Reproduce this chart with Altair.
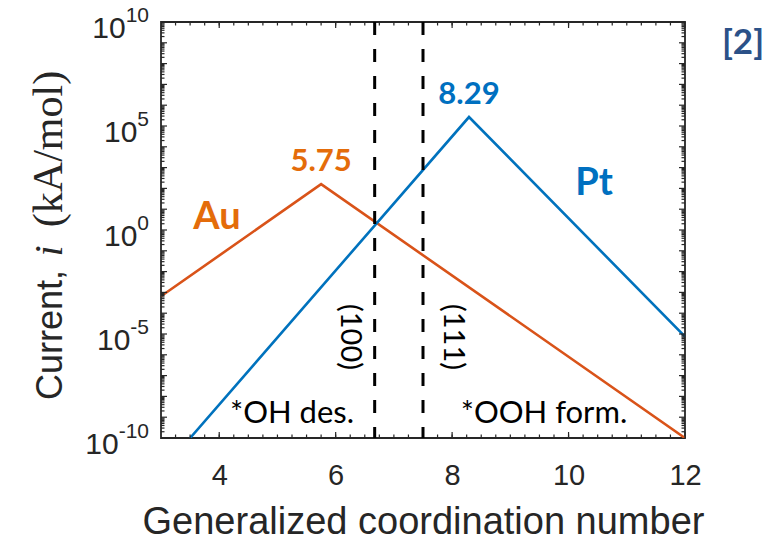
import altair as alt
import pandas as pd

# Volcano branches: generalized coordination number vs. current (log scale)
au_gcn = [3.0, 5.75, 12.0]
au_current = [6.5e-4, 1.6e2, 1.0e-10]
pt_gcn = [3.5, 8.29, 12.0]
pt_current = [1.0e-10, 2.7e5, 7.5e-6]

# facet positions marked by dashed lines
facet_gcn = [6.67, 7.5]
facet_names = ["(100)", "(111)"]

# apex labels
apex_metal = ["Au", "Pt"]
apex_gcn = [5.75, 8.29]
apex_current = [1.6e2, 2.7e5]
apex_text = ["5.75", "8.29"]

x_tick_labels = [4, 6, 8, 10, 12]
y_tick_exponents = [-10, -5, 0, 5, 10]

INK = "#262626"
AU_LINE, PT_LINE = "#D95319", "#0072BD"
AU_TEXT, PT_TEXT = "#E46C0A", "#0070C0"
SANS = "Liberation Sans"
SERIF = "Liberation Serif"
NOTE = "Lato"

W, H = 524, 416

lines_df = pd.DataFrame(
    {
        "metal": ["Au"] * len(au_gcn) + ["Pt"] * len(pt_gcn),
        "gcn": au_gcn + pt_gcn,
        "current": au_current + pt_current,
    }
)
facet_df = pd.DataFrame({"gcn": facet_gcn, "name": facet_names})
apex_df = pd.DataFrame(
    {"metal": apex_metal, "gcn": apex_gcn, "current": apex_current, "text": apex_text}
)

x_scale = alt.Scale(domain=[3, 12], nice=False, zero=False)
y_scale = alt.Scale(type="log", domain=[1e-10, 1e10], nice=False)

# tick positions (drawn inside the frame on all four sides)
quarter_ticks = [3 + 0.25 * k for k in range(1, 36)]
decade_ticks = [10.0 ** e for e in range(-9, 10)]
sub_decade_ticks = [m * 10.0 ** e for e in range(-10, 10) for m in range(2, 10)]

x_label_axis = alt.Axis(
    orient="bottom", values=x_tick_labels, ticks=False, tickSize=0,
    domain=False, grid=False, labelFont=SANS, labelFontSize=29,
    labelColor=INK, labelBaseline="alphabetic", labelPadding=46,
    labelFlush=False, labelOverlap=False,
    title="Generalized coordination number", titleFont=SANS,
    titleFontSize=38, titleFontWeight="normal", titleColor=INK,
    titleBaseline="alphabetic", titleY=95,
)

lines = alt.Chart(lines_df).mark_line(strokeWidth=2.6, clip=True).encode(
    x=alt.X("gcn:Q", scale=x_scale, axis=x_label_axis),
    y=alt.Y("current:Q", scale=y_scale, axis=None),
    color=alt.Color(
        "metal:N", scale=alt.Scale(domain=["Au", "Pt"], range=[AU_LINE, PT_LINE]), legend=None
    ),
)

layers = [lines]


def x_ticks(values, size):
    df = pd.DataFrame({"v": values})
    base = alt.Chart(df).mark_rule(color=INK, strokeWidth=1.2)
    bottom = base.encode(
        x=alt.X("v:Q", scale=x_scale, axis=None), y=alt.value(H), y2=alt.value(H - size)
    )
    top = base.encode(
        x=alt.X("v:Q", scale=x_scale, axis=None), y=alt.value(0), y2=alt.value(size)
    )
    return [bottom, top]


def y_ticks(values, size):
    df = pd.DataFrame({"v": values})
    base = alt.Chart(df).mark_rule(color=INK, strokeWidth=1.2)
    left = base.encode(
        y=alt.Y("v:Q", scale=y_scale, axis=None), x=alt.value(0), x2=alt.value(size)
    )
    right = base.encode(
        y=alt.Y("v:Q", scale=y_scale, axis=None), x=alt.value(W), x2=alt.value(W - size)
    )
    return [left, right]


layers += x_ticks(quarter_ticks, 3.5)
layers += x_ticks(x_tick_labels, 6)
layers += y_ticks(sub_decade_ticks, 3.5)
layers += y_ticks(decade_ticks, 6)

# dashed facet markers
layers.append(
    alt.Chart(facet_df).mark_rule(color="black", strokeWidth=3, strokeDash=[13, 14]).encode(
        x=alt.X("gcn:Q", scale=x_scale, axis=None)
    )
)

# facet names, rotated
facet_px = {"(100)": 189, "(111)": 292}
for name in facet_names:
    layers.append(
        alt.Chart(facet_df[facet_df["name"] == name]).mark_text(
            font=NOTE, fontSize=29, color="black", angle=90, align="center", baseline="middle"
        ).encode(x=alt.value(facet_px[name]), y=alt.value(315), text="name:N")
    )

# apex values above each peak
apex_color = {"Au": AU_TEXT, "Pt": PT_TEXT}
for metal in apex_metal:
    layers.append(
        alt.Chart(apex_df[apex_df["metal"] == metal]).mark_text(
            font=NOTE, fontSize=31, fontWeight="bold", color=apex_color[metal],
            align="center", baseline="middle", dy=-22,
        ).encode(
            x=alt.X("gcn:Q", scale=x_scale, axis=None),
            y=alt.Y("current:Q", scale=y_scale, axis=None),
            text="text:N",
        )
    )

# free annotations
notes = [
    ("Au", 56, 196, 38, "bold", AU_TEXT),
    ("Pt", 433, 162, 38, "bold", PT_TEXT),
    ("*OH des.", 131, 392, 31, "normal", "black"),
    ("*OOH form.", 383, 392, 31, "normal", "black"),
    ("[2]", 582, 21, 35, "bold", "#2B5188"),
]
for text, px, py, size, weight, color in notes:
    layers.append(
        alt.Chart(pd.DataFrame({"t": [text]})).mark_text(
            font=NOTE, fontSize=size, fontWeight=weight, color=color,
            align="center", baseline="middle",
        ).encode(x=alt.value(px), y=alt.value(py), text="t:N")
    )

# y-axis title: sans "Current," followed by math-style "i (kA/mol)"
y_title_parts = [
    ("Current,", SANS, "normal", 36, 313),
    ("i", SERIF, "italic", 40, 229),
    ("(kA/mol)", SERIF, "normal", 42, 127),
]
for text, font, style, size, py in y_title_parts:
    layers.append(
        alt.Chart(pd.DataFrame({"t": [text]})).mark_text(
            font=font, fontStyle=style, fontSize=size, color=INK, angle=270,
            align="center", baseline="alphabetic",
        ).encode(x=alt.value(-99), y=alt.value(py), text="t:N")
    )

# y tick labels: "10" with a raised exponent, right-aligned to the frame
BASE_FS, EXP_FS = 30, 21
char_w = {"-": 0.333}
for e in y_tick_exponents:
    exp = str(e)
    exp_w = EXP_FS * sum(char_w.get(c, 0.556) for c in exp)
    tick_df = pd.DataFrame({"value": [10.0 ** e], "base": ["10"], "exp": [exp]})
    layers.append(
        alt.Chart(tick_df).mark_text(
            font=SANS, fontSize=BASE_FS, color=INK, align="right", baseline="middle", dy=7
        ).encode(
            x=alt.value(-12 - exp_w),
            y=alt.Y("value:Q", scale=y_scale, axis=None),
            text="base:N",
        )
    )
    layers.append(
        alt.Chart(tick_df).mark_text(
            font=SANS, fontSize=EXP_FS, color=INK, align="right", baseline="middle", dy=-6
        ).encode(
            x=alt.value(-12),
            y=alt.Y("value:Q", scale=y_scale, axis=None),
            text="exp:N",
        )
    )

chart = (
    alt.layer(*layers)
    .resolve_axis(x="independent", y="independent")
    .properties(
        width=W,
        height=H,
        autosize=alt.AutoSizeParams(type="none"),
        padding={"left": 161, "top": 22, "right": 97, "bottom": 103},
        background="white",
    )
    .configure_view(stroke=INK, strokeWidth=1.8)
)

chart.save("out.html", embed_options={"renderer": "svg", "actions": False})
